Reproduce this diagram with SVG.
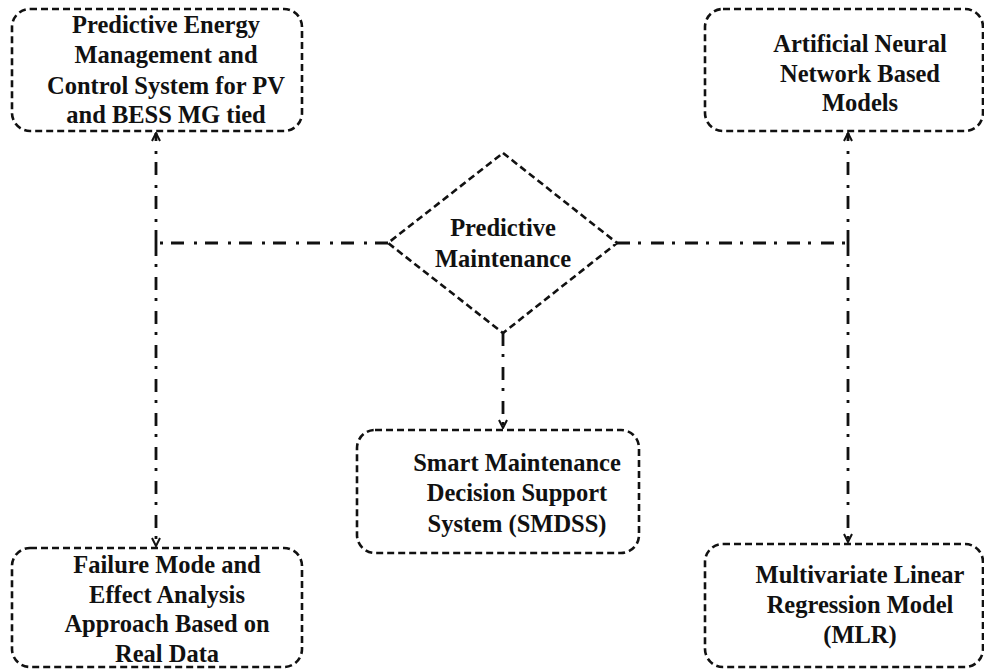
<svg xmlns="http://www.w3.org/2000/svg" width="984" height="669" viewBox="0 0 984 669">
<style>
.box{fill:#fff;stroke:#111;stroke-width:2.6;stroke-dasharray:7 4}
.t{font-family:"Liberation Serif","Times New Roman",serif;font-weight:700;font-size:24.5px;fill:#111;text-anchor:middle}
.c{fill:none;stroke:#111;stroke-width:2.8;stroke-dasharray:13 8 3 10}
</style>
<defs>
<marker id="ah" viewBox="0 0 10 10" refX="9" refY="5" markerWidth="10" markerHeight="10" markerUnits="userSpaceOnUse" orient="auto">
<path d="M1,1 L9,5 L1,9" fill="none" stroke="#111" stroke-width="2"/>
</marker>
</defs>
<rect width="984" height="669" fill="#fff"/>
<g id="connectors">
<path class="c" d="M388,243 H156"/>
<path class="c" d="M156,243 V133" marker-end="url(#ah)"/>
<path class="c" d="M156,243 V546" marker-end="url(#ah)"/>
<path class="c" d="M617,243 H848"/>
<path class="c" d="M848,243 V133" marker-end="url(#ah)"/>
<path class="c" d="M848,243 V542" marker-end="url(#ah)"/>
<path class="c" d="M503,333 V428" marker-end="url(#ah)"/>
</g>
<g id="pem">
<rect class="box" x="12" y="9" width="290" height="122" rx="18"/>
<text class="t" x="166" y="33">Predictive Energy</text>
<text class="t" x="166" y="63">Management and</text>
<text class="t" x="166" y="94">Control System for PV</text>
<text class="t" x="166" y="123">and BESS MG tied</text>
</g>
<g id="ann">
<rect class="box" x="705" y="9" width="278" height="122" rx="18"/>
<text class="t" x="860" y="52">Artificial Neural</text>
<text class="t" x="860" y="82">Network Based</text>
<text class="t" x="860" y="111">Models</text>
</g>
<g id="pm">
<polygon class="box" points="503,153 617,243 503,333 388,243"/>
<text class="t" x="503" y="236">Predictive</text>
<text class="t" x="503" y="267">Maintenance</text>
</g>
<g id="smdss">
<rect class="box" x="357" y="430" width="282" height="123" rx="18"/>
<text class="t" x="517" y="471">Smart Maintenance</text>
<text class="t" x="517" y="501">Decision Support</text>
<text class="t" x="517" y="532">System (SMDSS)</text>
</g>
<g id="fmea">
<rect class="box" x="12" y="548" width="290" height="119" rx="18"/>
<text class="t" x="167" y="573">Failure Mode and</text>
<text class="t" x="167" y="603">Effect Analysis</text>
<text class="t" x="167" y="632">Approach Based on</text>
<text class="t" x="167" y="662">Real Data</text>
</g>
<g id="mlr">
<rect class="box" x="705" y="544" width="278" height="123" rx="18"/>
<text class="t" x="860" y="583">Multivariate Linear</text>
<text class="t" x="860" y="613">Regression Model</text>
<text class="t" x="860" y="643">(MLR)</text>
</g>
</svg>
